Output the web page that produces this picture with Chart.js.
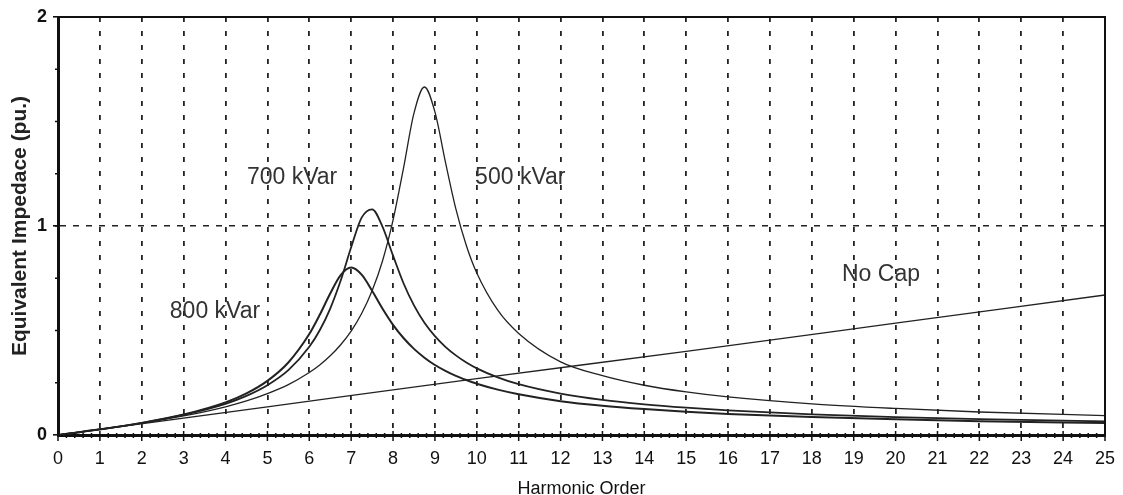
<!DOCTYPE html>
<html>
<head>
<meta charset="utf-8">
<script src="https://cdn.jsdelivr.net/npm/chart.js@4"></script>
<style>
  body { margin: 0; background: #fff; }
  #chart { display: block; }
</style>
</head>
<body>
<canvas id="chart" width="1123" height="495"></canvas>
<script>
// harmonic orders sampled for the three capacitor curves
const harmonics = [0, 1, 2, 3, 4, 4.5, 5, 5.5, 6, 6.25, 6.5, 6.75, 7, 7.25, 7.5, 7.75, 8, 8.25, 8.5, 8.75,
  9, 9.25, 9.5, 9.75, 10, 10.5, 11, 12, 13, 14, 15, 16, 18, 20, 22, 25];

// equivalent impedance (pu.)
const cap800 = [0, 0.027, 0.058, 0.098, 0.156, 0.199, 0.259, 0.347, 0.483, 0.575, 0.677, 0.765, 0.801, 0.767, 0.69, 0.604, 0.527, 0.464, 0.412, 0.37,
  0.335, 0.307, 0.283, 0.263, 0.245, 0.217, 0.195, 0.162, 0.14, 0.124, 0.111, 0.101, 0.086, 0.075, 0.066, 0.057];
const cap700 = [0, 0.027, 0.058, 0.096, 0.149, 0.187, 0.238, 0.31, 0.422, 0.501, 0.605, 0.739, 0.898, 1.04, 1.08, 0.996, 0.858, 0.726, 0.62, 0.537,
  0.473, 0.422, 0.381, 0.347, 0.319, 0.276, 0.243, 0.198, 0.168, 0.147, 0.131, 0.118, 0.099, 0.086, 0.076, 0.065];
const cap500 = [0, 0.027, 0.057, 0.091, 0.135, 0.163, 0.198, 0.241, 0.299, 0.335, 0.379, 0.432, 0.497, 0.581, 0.69, 0.834, 1.028, 1.277, 1.54, 1.665,
  1.546, 1.307, 1.082, 0.907, 0.775, 0.597, 0.486, 0.35, 0.284, 0.238, 0.206, 0.182, 0.149, 0.127, 0.11, 0.093];

// no capacitor: straight line
const noCapHarmonics = [0, 5, 10, 15, 20, 25];
const noCap = [0, 0.135, 0.27, 0.40, 0.535, 0.67];

const xTicks = [0, 25];
const yTicks = [0, 2];

const curveLabels = [
  { text: '700 kVar', h: 4.51, z: 1.23 },
  { text: '500 kVar', h: 9.96, z: 1.23 },
  { text: '800 kVar', h: 2.67, z: 0.59 },
  { text: 'No Cap', h: 18.72, z: 0.766 }
];

const toPoints = (xs, ys) => xs.map((h, i) => ({ x: h, y: ys[i] }));

const FONT = '"Liberation Sans", Arial, sans-serif';

const decorations = {
  id: 'decorations',
  afterDatasetsDraw(chart) {
    const { ctx, chartArea: a, scales: { x, y } } = chart;
    ctx.save();
    ctx.strokeStyle = '#111';

    // top and right frame
    ctx.lineWidth = 2;
    ctx.beginPath();
    ctx.moveTo(a.left, a.top);
    ctx.lineTo(a.right, a.top);
    ctx.lineTo(a.right, a.bottom);
    ctx.stroke();

    // x ticks, major and minor
    ctx.lineWidth = 1.5;
    ctx.beginPath();
    for (let i = 0; i <= 125; i++) {
      const px = x.getPixelForValue(i / 5);
      const major = i % 5 === 0;
      ctx.moveTo(px, a.bottom - (major ? 4 : 2));
      ctx.lineTo(px, a.bottom + (major ? 6 : 3));
    }
    // y minor ticks
    for (let i = 1; i < 8; i++) {
      const py = y.getPixelForValue(i / 4);
      ctx.moveTo(a.left - 3, py);
      ctx.lineTo(a.left + 1, py);
    }
    ctx.stroke();

    // curve labels
    ctx.font = '23px ' + FONT;
    ctx.fillStyle = '#333';
    ctx.textBaseline = 'middle';
    ctx.textAlign = 'left';
    curveLabels.forEach(l => {
      ctx.fillText(l.text, x.getPixelForValue(l.h), y.getPixelForValue(l.z));
    });
    ctx.restore();
  }
};

const lineStyle = (width) => ({
  borderColor: '#222',
  borderWidth: width,
  pointRadius: 0,
  fill: false,
  cubicInterpolationMode: 'monotone'
});

new Chart(document.getElementById('chart'), {
  type: 'line',
  data: {
    datasets: [
      { label: '800 kVar', data: toPoints(harmonics, cap800), ...lineStyle(2) },
      { label: '700 kVar', data: toPoints(harmonics, cap700), ...lineStyle(1.8) },
      { label: '500 kVar', data: toPoints(harmonics, cap500), ...lineStyle(1.3) },
      { label: 'No Cap', data: toPoints(noCapHarmonics, noCap), ...lineStyle(1.3) }
    ]
  },
  options: {
    responsive: false,
    animation: false,
    layout: { padding: { top: 17, right: 18, left: 0, bottom: 0 } },
    plugins: {
      legend: { display: false },
      tooltip: { enabled: false }
    },
    scales: {
      x: {
        type: 'linear',
        min: xTicks[0],
        max: xTicks[1],
        afterFit: s => { s.height = 60; s.paddingRight = 0; s.paddingLeft = 0; },
        ticks: {
          stepSize: 1,
          autoSkip: false,
          maxRotation: 0,
          padding: 13,
          color: '#111',
          font: { family: FONT, size: 18 }
        },
        grid: {
          drawTicks: false,
          lineWidth: 1.8,
          color: c => (c.tick && c.tick.value > 0 && c.tick.value < 25) ? '#222' : 'transparent'
        },
        border: { display: true, color: '#111', width: 3, dash: [5, 9] },
        title: {
          display: true,
          text: 'Harmonic Order',
          color: '#111',
          font: { family: FONT, size: 18 },
          padding: { top: 0, bottom: -5 }
        }
      },
      y: {
        min: yTicks[0],
        max: yTicks[1],
        afterFit: s => { s.width = 58; },
        ticks: {
          stepSize: 1,
          padding: 6,
          color: '#111',
          font: { family: FONT, size: 18, weight: 'bold' }
        },
        grid: {
          drawTicks: true,
          tickLength: 5,
          tickColor: '#111',
          lineWidth: 1.6,
          color: c => (c.tick && c.tick.value === 1) ? '#222' : 'transparent'
        },
        border: { display: true, color: '#111', width: 3, dash: [6, 7] },
        title: {
          display: true,
          text: 'Equivalent Impedace (pu.)',
          color: '#222',
          font: { family: FONT, size: 21, weight: 'bold' },
          padding: { top: 8, bottom: 0 }
        }
      }
    }
  },
  plugins: [decorations]
});
</script>
</body>
</html>
